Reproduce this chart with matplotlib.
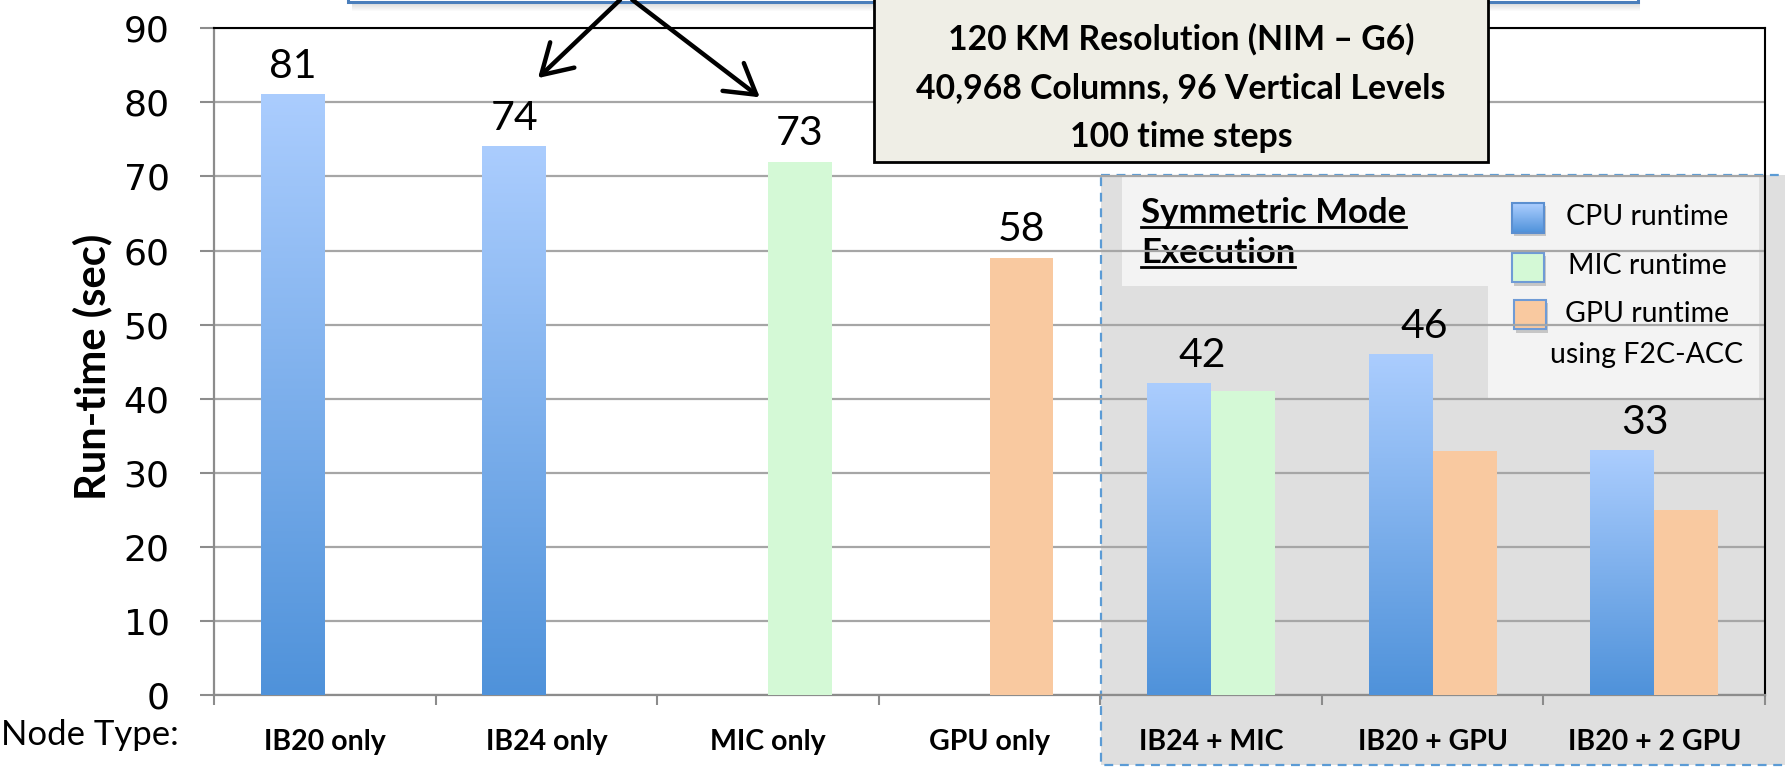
import numpy as np
import matplotlib
matplotlib.use("Agg")
import matplotlib.pyplot as plt
from matplotlib.patches import Rectangle, Polygon, FancyArrowPatch
from matplotlib.colors import LinearSegmentedColormap
from matplotlib.transforms import Affine2D

# ---------------- data ----------------
categories = ["IB20 only", "IB24 only", "MIC only", "GPU only",
              "IB24 + MIC", "IB20 + GPU", "IB20 + 2 GPU"]
cpu_runtime = [81, 74, None, None, 42, 46, 33]
mic_runtime = [None, None, 72, None, 41, None, None]
gpu_runtime = [None, None, None, 59, None, 33, 25]
value_labels = ["81", "74", "73", "58", "42", "46", "33"]
y_ticks = [0, 10, 20, 30, 40, 50, 60, 70, 80, 90]
legend_labels = ["CPU runtime", "MIC runtime", "GPU runtime", "using F2C-ACC"]
info_lines = ["120 KM Resolution (NIM \u2013 G6)",
              "40,968 Columns, 96 Vertical Levels",
              "100 time steps"]
panel_title = ["Symmetric Mode", "Execution"]
y_label = "Run-time (sec)"
x_caption = "Node Type:"

# ---------------- figure ----------------
W, H = 1785, 769
DPI = 100
fig = plt.figure(figsize=(W / DPI, H / DPI), dpi=DPI, facecolor="white")
# image-pixel coordinates (origin top-left) -> figure
T = Affine2D().scale(1.0 / W, -1.0 / H).translate(0, 1) + fig.transFigure

FONT = "Lato"
CPU_TOP, CPU_BOT = "#ABCDFE", "#4F92DA"
MIC_C = "#D4F9D6"
GPU_C = "#F9C9A0"
GRID_C = "#A6A6A6"
AXIS_C = "#8C8C8C"

ax_l, ax_r, ax_b, ax_t = 214, 1765, 695, 28.3
ax = fig.add_axes([ax_l / W, 1 - ax_b / H, (ax_r - ax_l) / W, (ax_b - ax_t) / H])
ax.set_facecolor("none")

# ---- symmetric-mode background region (behind axes) ----
fig.add_artist(Rectangle((1101, 175), 800, 590, transform=T, facecolor="#DFDFDF",
                         edgecolor="#5B9BD5", linestyle=(0, (4, 3)), linewidth=1.6,
                         zorder=-3))
fig.add_artist(Polygon([(1122, 177), (1759, 177), (1759, 398), (1488, 398),
                        (1488, 286), (1122, 286)], closed=True, transform=T,
                       facecolor="#F3F3F3", edgecolor="none", zorder=-2))

# ---------------- bars ----------------
x = np.arange(len(categories))
bw = 64 / 221.6
cpu = np.array([np.nan if v is None else v for v in cpu_runtime], float)
mic = np.array([np.nan if v is None else v for v in mic_runtime], float)
gpu = np.array([np.nan if v is None else v for v in gpu_runtime], float)

cpu_cmap = LinearSegmentedColormap.from_list("cpu", [CPU_BOT, CPU_TOP])
grad = np.linspace(0, 1, 256).reshape(-1, 1)
bars = ax.bar(x - bw / 2, np.nan_to_num(cpu), bw, color="none", zorder=3)
for b, h in zip(bars, cpu):
    if np.isfinite(h):
        x0 = b.get_x()
        ax.imshow(grad, extent=[x0, x0 + bw, 0, h], origin="lower", aspect="auto",
                  cmap=cpu_cmap, zorder=3, interpolation="bicubic")
ax.bar(x + bw / 2, np.nan_to_num(mic), bw, color=MIC_C, zorder=3)
ax.bar(x + bw / 2, np.nan_to_num(gpu), bw, color=GPU_C, zorder=3)

# value labels
for i, lab in enumerate(value_labels):
    vals = np.array([cpu[i], mic[i], gpu[i]])
    n = np.isfinite(vals).sum()
    top = np.nanmax(vals)
    if n == 1:
        xi = x[i] - bw / 2 if np.isfinite(cpu[i]) else x[i] + bw / 2
    else:
        xi = x[i] - 0.04
    ax.annotate(lab, (xi, top), xytext=(0, 12), textcoords="offset points",
                ha="center", va="baseline", fontsize=29.5, family=FONT, zorder=5)

# ---------------- axes styling ----------------
ax.set_xlim(-0.5, len(categories) - 0.5)
ax.set_ylim(0, 90)
ax.set_yticks(y_ticks)
ax.set_yticklabels([str(v) for v in y_ticks], fontsize=26, family="DejaVu Sans")
ax.set_xticks(np.arange(-0.5, len(categories), 1.0))
ax.set_xticklabels([])
ax.tick_params(axis="y", length=10, width=1.5, color=AXIS_C, pad=22)
ax.tick_params(axis="x", length=7, width=1.5, color=AXIS_C)
ax.yaxis.grid(True, color=GRID_C, linewidth=1.6, zorder=1)
ax.set_axisbelow(True)
for s in ("left", "bottom"):
    ax.spines[s].set_color(AXIS_C)
    ax.spines[s].set_linewidth(1.6)
for s in ("top", "right"):
    ax.spines[s].set_color("black")
    ax.spines[s].set_linewidth(1.5)

# category labels
for i, c in enumerate(categories):
    fig.text(ax_l + (i + 0.5) * (ax_r - ax_l) / len(categories), 750, c,
             transform=T, ha="center", va="baseline", fontsize=20.5,
             family=FONT, fontweight="bold")

fig.text(1, 745, x_caption, transform=T, ha="left", va="baseline", fontsize=25,
         family=FONT)
fig.text(92, 367, y_label, transform=T, ha="center", va="center", rotation=90,
         fontsize=30, family=FONT, fontweight="bold")

# ---------------- symmetric-mode panel: title & legend ----------------
title_objs = []
for txt, base in zip(panel_title, [223, 263]):
    t = fig.text(1141, base, txt, transform=T, ha="left", va="baseline",
                 fontsize=25, family=FONT, fontweight="bold", zorder=-1)
    title_objs.append((t, base))

leg_boxes = [(1512, 203, CPU_TOP), (1512, 253, MIC_C), (1514, 300, GPU_C)]
for k, (lx, ly, col) in enumerate(leg_boxes):
    # shadow
    fig.add_artist(Rectangle((lx + 2, ly + 3), 32, 30, transform=T,
                             facecolor="#9A9A9A", alpha=0.5, edgecolor="none",
                             zorder=-1.2))
    if k == 0:
        nstep = 30
        for s in range(nstep):
            c = cpu_cmap(1 - s / (nstep - 1))
            fig.add_artist(Rectangle((lx, ly + s * 30 / nstep), 32, 30 / nstep + 0.3,
                                     transform=T, facecolor=c, edgecolor="none",
                                     zorder=-1.1))
        fig.add_artist(Rectangle((lx, ly), 32, 30, transform=T, facecolor="none",
                                 edgecolor="#5B8FD0", linewidth=1.5, zorder=-1.0))
    else:
        fig.add_artist(Rectangle((lx, ly), 32, 29, transform=T, facecolor=col,
                                 edgecolor="#6F9BD6", linewidth=1.5, zorder=-1.0))

for txt, cy in zip(legend_labels, [217, 266, 314, 355]):
    fig.text(1647, cy, txt, transform=T, ha="center", va="center", fontsize=20.5,
             family=FONT, zorder=-1)

# ---------------- callouts on top ----------------
# blue callout box (mostly above the figure)
fig.add_artist(Rectangle((348, -60), 1290, 62, transform=T, facecolor="white",
                         edgecolor="#4A7EBB", linewidth=2.2, zorder=10))
for k in range(8):
    fig.add_artist(Rectangle((352, 3 + k), 1288, 1.0, transform=T,
                             facecolor="#808080", alpha=0.28 * (1 - k / 8),
                             edgecolor="none", zorder=9.5))

# beige info box
fig.add_artist(Rectangle((874, -10), 614, 172, transform=T, facecolor="#EFEEE6",
                         edgecolor="black", linewidth=2.0, zorder=11))
for txt, base in zip(info_lines, [50, 98, 147]):
    fig.text(1181, base, txt, transform=T, ha="center", va="baseline",
             fontsize=24.3, family=FONT, fontweight="bold", zorder=12)

# arrows
for (xa, ya), (xb, yb) in [((622, -2), (536, 80)), ((630, -2), (762, 99))]:
    fig.add_artist(FancyArrowPatch((xa, ya), (xb, yb), transform=T,
                                   arrowstyle="->,head_length=0.75,head_width=0.45",
                                   mutation_scale=28, linewidth=3.2, color="black",
                                   zorder=12))

# underline the panel title using real text extents
fig.canvas.draw()
renderer = fig.canvas.get_renderer()
for t, base in title_objs:
    bb = t.get_window_extent(renderer)
    fig.add_artist(plt.Line2D([bb.x0 / W, bb.x1 / W], [1 - (base + 4) / H] * 2,
                              transform=fig.transFigure, color="black",
                              linewidth=2.0, zorder=-1))

fig.savefig("out.png", dpi=DPI, facecolor="white")
